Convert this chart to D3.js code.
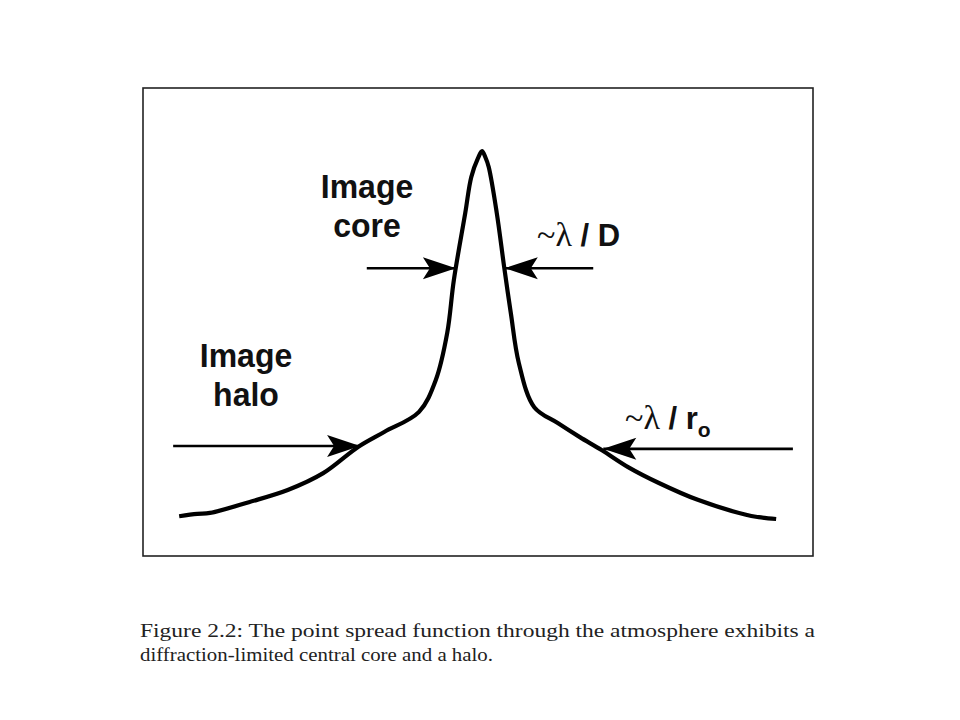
<!DOCTYPE html>
<html><head><meta charset="utf-8">
<script src="https://cdn.jsdelivr.net/npm/d3@7"></script>
<style>body{margin:0;background:#fff}</style>
</head><body>
<svg id="c" width="960" height="720"></svg>
<script>
// Point spread function profile (arbitrary units: position 0-100, intensity 0-100)
const psfX = [5.4, 8.1, 10.0, 15.8, 21.6, 26.9, 32.1, 36.0, 41.2, 43.7, 45.4, 46.4, 48.1, 49.0, 50.0, 50.6, 51.1,
              51.6, 52.8, 53.9, 54.9, 56.1, 58.4, 61.9, 65.2, 68.5, 72.4, 77.0, 82.8, 90.0, 91.9, 94.5];
const psfY = [8.5, 9.0, 9.2, 11.5, 14.1, 17.7, 23.3, 26.5, 30.8, 37.6, 47.6, 59.0, 73.3, 81.0, 85.0, 86.5, 85.2,
              83.1, 73.3, 61.8, 51.9, 41.2, 31.8, 28.4, 25.4, 22.6, 19.0, 15.6, 12.0, 8.8, 8.3, 7.9];
// Width markers: [from x, to x, at y]
const arrowFrom = [33.4, 67.2, 4.5, 97.0];
const arrowTo   = [46.7, 54.0, 32.4, 68.7];
const arrowY    = [61.5, 61.5, 23.5, 22.9];
const labelsCore = ["Image", "core"];
const labelsHalo = ["Image", "halo"];
const captionLines = ["Figure 2.2:  The point spread function through the atmosphere exhibits a",
                      "diffraction-limited central core and a halo."];

const svg = d3.select("#c");
const frame = {x0: 143, x1: 813, y0: 88, y1: 556};
const x = d3.scaleLinear().domain([0, 100]).range([frame.x0, frame.x1]);
const y = d3.scaleLinear().domain([0, 100]).range([frame.y1, frame.y0]);

svg.append("rect").attr("x", frame.x0).attr("y", frame.y0)
  .attr("width", frame.x1 - frame.x0).attr("height", frame.y1 - frame.y0)
  .attr("fill", "none").attr("stroke", "#222").attr("stroke-width", 1.6);

svg.append("defs").append("marker")
  .attr("id", "head").attr("markerUnits", "userSpaceOnUse")
  .attr("viewBox", "-34 -12 36 24").attr("refX", 0).attr("refY", 0)
  .attr("markerWidth", 36).attr("markerHeight", 24).attr("orient", "auto")
  .append("path").attr("d", "M0,0 L-33,-11 L-26,0 L-33,11 Z").attr("fill", "#000");

const pts = psfX.map((v, i) => [v, psfY[i]]);
svg.append("path").datum(pts)
  .attr("d", d3.line().x(d => x(d[0])).y(d => y(d[1])).curve(d3.curveCatmullRom.alpha(0.5)))
  .attr("fill", "none").attr("stroke", "#000").attr("stroke-width", 4.2)
  .attr("stroke-linejoin", "round").attr("stroke-linecap", "butt");

arrowFrom.forEach((f, i) => {
  svg.append("line").attr("x1", x(f)).attr("x2", x(arrowTo[i]))
    .attr("y1", y(arrowY[i])).attr("y2", y(arrowY[i]))
    .attr("stroke", "#000").attr("stroke-width", 2.6)
    .attr("marker-end", "url(#head)");
});

const bold = "'Liberation Sans', Arial, sans-serif";
const serif = "'Liberation Serif', 'DejaVu Serif', serif";
function label(lines, cx, y0, dy) {
  lines.forEach((t, i) => svg.append("text").attr("x", cx).attr("y", y0 + i * dy)
    .attr("text-anchor", "middle").attr("font-family", bold).attr("font-weight", "bold")
    .attr("font-size", 32).attr("fill", "#111")
    .attr("transform", `translate(${cx},${y0 + i * dy}) scale(1,1.06) translate(${-cx},${-(y0 + i * dy)})`)
    .text(t));
}
label(labelsCore, 367, 198, 39);
label(labelsHalo, 246, 367, 39);

const t1 = svg.append("text").attr("x", 537).attr("y", 246).attr("font-family", bold)
  .attr("font-weight", "bold").attr("font-size", 31).attr("fill", "#111");
t1.append("tspan").attr("font-family", serif).attr("font-weight", "normal").attr("font-size", 34).text("~λ");
t1.append("tspan").text(" / D");
const t2 = svg.append("text").attr("x", 625).attr("y", 429).attr("font-family", bold)
  .attr("font-weight", "bold").attr("font-size", 31).attr("fill", "#111");
t2.append("tspan").attr("font-family", serif).attr("font-weight", "normal").attr("font-size", 34).text("~λ");
t2.append("tspan").text(" / r");
t2.append("tspan").attr("font-size", 21).attr("dy", 8).text("o");

const cap = "'Liberation Serif', 'DejaVu Serif', serif";
svg.append("text").attr("x", 140).attr("y", 637).attr("font-family", cap).attr("font-size", 19)
  .attr("fill", "#222").attr("textLength", 675).attr("lengthAdjust", "spacingAndGlyphs").text(captionLines[0]);
svg.append("text").attr("x", 140).attr("y", 661).attr("font-family", cap).attr("font-size", 19)
  .attr("fill", "#222").attr("textLength", 353).attr("lengthAdjust", "spacingAndGlyphs").text(captionLines[1]);
</script>
</body></html>
